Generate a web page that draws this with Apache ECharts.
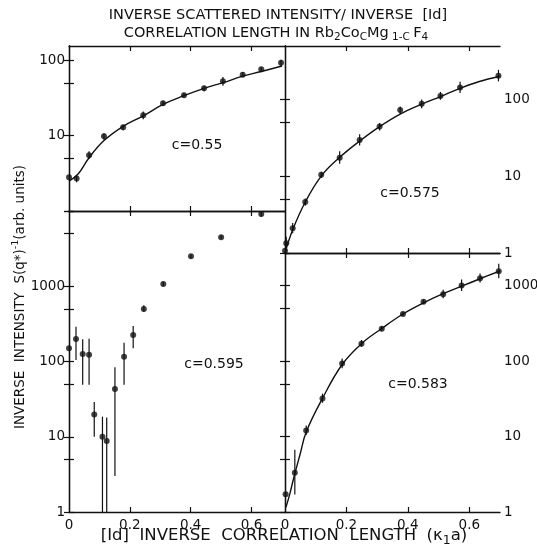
<!DOCTYPE html>
<html>
<head>
<meta charset="utf-8">
<script src="https://cdn.jsdelivr.net/npm/echarts@6/dist/echarts.min.js"></script>
<style>
  html, body { margin: 0; background: #fff; }
  #chart { width: 537px; height: 550px; }
</style>
</head>
<body>
<div id="chart"></div>
<script>
// tick values
const xLabelValues = [0, 0.2, 0.4, 0.6];
const xTickValues = [0.2, 0.4, 0.6];
const yTickValues = [1, 5, 10, 50, 100, 500, 1000, 5000, 10000];

// c = 0.55 (top left)
const kappa055 = [0, 0.025, 0.066, 0.115, 0.178, 0.244, 0.309, 0.378, 0.444, 0.506, 0.571, 0.632, 0.697];
const inten055 = [2.8, 2.7, 5.5, 9.8, 12.9, 18.7, 27, 34.5, 42.6, 52.6, 64.6, 76, 93];
const lo055 = [2.5, 2.4, 4.9, 8.8, 11.8, 16.5, 25, 32, 39, 46, 60, 71, 84];
const hi055 = [3.1, 3.0, 6.2, 10.8, 14.0, 21, 29, 37, 46, 60, 70, 81, 102];
const fitKappa055 = [0, 0.03, 0.066, 0.115, 0.178, 0.244, 0.309, 0.378, 0.444, 0.506, 0.571, 0.632, 0.70];
const fitInten055 = [2.5, 3.1, 5.1, 8.6, 13.3, 18.3, 26, 34, 42.5, 50.5, 61.6, 71, 84];

// c = 0.595 (bottom left)
const kappa0595 = [0, 0.023, 0.045, 0.066, 0.083, 0.110, 0.124, 0.151, 0.181, 0.211, 0.246, 0.31, 0.401, 0.50, 0.632];
const inten0595 = [150, 199, 126, 123, 19.8, 10, 8.8, 43, 116, 225, 500, 1070, 2500, 4470, 9100];
const lo0595 = [96, 105, 49, 49, 10, 1, 1, 3.0, 49, 150, 460, 1000, 2350, 4200, 8400];
const hi0595 = [240, 290, 197, 200, 29, 18.5, 18, 84, 178, 297, 560, 1150, 2650, 4750, 9800];

// c = 0.575 (top right)
const kappa0575 = [0, 0.004, 0.025, 0.066, 0.118, 0.178, 0.243, 0.308, 0.375, 0.445, 0.506, 0.570, 0.695];
const inten0575 = [1.07, 1.34, 2.1, 4.6, 10.4, 17.3, 29.4, 44, 72, 87, 110, 142, 201];
const lo0575 = [1.0, 1.15, 1.8, 4.1, 9.4, 14.5, 25, 39, 64, 76, 98, 120, 170];
const hi0575 = [1.15, 1.63, 2.45, 5.1, 11.4, 21, 35, 49, 80, 99, 124, 168, 240];
const fitKappa0575 = [0, 0.025, 0.066, 0.118, 0.178, 0.243, 0.308, 0.375, 0.445, 0.506, 0.570, 0.63, 0.70];
const fitInten0575 = [1.0, 2.0, 4.6, 10, 17.5, 28.5, 44, 64, 86, 108, 138, 168, 198];

// c = 0.583 (bottom right)
const kappa0583 = [0.002, 0.032, 0.069, 0.122, 0.186, 0.249, 0.315, 0.384, 0.451, 0.515, 0.575, 0.635, 0.696];
const inten0583 = [1.72, 3.3, 12, 32, 93, 170, 268, 420, 610, 765, 1000, 1250, 1550];
const lo0583 = [1.6, 1.7, 10.5, 28, 80, 155, 250, 395, 570, 680, 850, 1100, 1250];
const hi0583 = [1.85, 6.7, 14, 37, 108, 190, 290, 450, 650, 880, 1200, 1450, 1950];
const fitKappa0583 = [0.003, 0.015, 0.03, 0.05, 0.069, 0.122, 0.186, 0.249, 0.315, 0.384, 0.451, 0.515, 0.575, 0.635, 0.70];
const fitInten0583 = [1.15, 1.7, 3.0, 6.0, 11.5, 32, 90, 170, 270, 420, 590, 780, 980, 1230, 1560];

const zip = (a, b) => a.map((v, i) => [v, b[i]]);
const zip3 = (a, b, c) => a.map((v, i) => [v, b[i], c[i]]);

const FONT = 'DejaVu Sans';
const INK = '#111';

// panel layout: top-left, bottom-left, top-right, bottom-right
const panels = [
  { grid: { left: 69, top: 46, width: 216, height: 165 }, xMax: 0.71, yMin: 1, yMax: 155,
    leftLabels: [10, 100], rightLabels: null, xLabels: false,
    pts: zip(kappa055, inten055), err: zip3(kappa055, lo055, hi055), fit: zip(fitKappa055, fitInten055) },
  { grid: { left: 69, top: 211, width: 216, height: 301 }, xMax: 0.71, yMin: 1, yMax: 10000,
    leftLabels: [1, 10, 100, 1000], rightLabels: null, xLabels: true,
    pts: zip(kappa0595, inten0595), err: zip3(kappa0595, lo0595, hi0595), fit: null },
  { grid: { left: 285, top: 46, width: 215, height: 207 }, xMax: 0.70, yMin: 1, yMax: 490,
    leftLabels: null, rightLabels: [1, 10, 100], xLabels: false,
    pts: zip(kappa0575, inten0575), err: zip3(kappa0575, lo0575, hi0575), fit: zip(fitKappa0575, fitInten0575) },
  { grid: { left: 285, top: 253, width: 215, height: 259 }, xMax: 0.70, yMin: 1, yMax: 2700,
    leftLabels: null, rightLabels: [1, 10, 100, 1000], xLabels: true,
    pts: zip(kappa0583, inten0583), err: zip3(kappa0583, lo0583, hi0583), fit: zip(fitKappa0583, fitInten0583) }
];

const axisLine = { show: true, lineStyle: { color: INK, width: 1.3 } };
const labelStyle = { color: INK, fontFamily: FONT, fontSize: 13.5 };

const grids = [], xAxes = [], yAxes = [], series = [];

panels.forEach((p, g) => {
  grids.push(Object.assign({ outerBoundsMode: 'none', containLabel: false }, p.grid));
  ['bottom', 'top'].forEach((pos) => {
    const showLab = pos === 'bottom' && p.xLabels;
    xAxes.push({
      type: 'value', gridIndex: g, position: pos, min: 0, max: p.xMax,
      axisLine: axisLine,
      splitLine: { show: false },
      axisTick: { show: true, inside: true, length: 5, customValues: xTickValues, lineStyle: { color: INK, width: 1.2 } },
      axisLabel: showLab ? Object.assign({ show: true, customValues: xLabelValues, margin: 6,
        formatter: (v) => (Math.round(v * 10) / 10).toString() }, labelStyle) : { show: false }
    });
  });
  ['left', 'right'].forEach((pos) => {
    const labs = pos === 'left' ? p.leftLabels : p.rightLabels;
    yAxes.push({
      type: 'log', logBase: 10, gridIndex: g, position: pos, min: p.yMin, max: p.yMax,
      axisLine: axisLine,
      splitLine: { show: false },
      minorTick: { show: false },
      axisTick: { show: true, inside: true, length: 5, customValues: yTickValues, lineStyle: { color: INK, width: 1.2 } },
      axisLabel: labs ? Object.assign({ show: true, customValues: labs, margin: 4,
        formatter: (v) => String(Math.round(v)) }, labelStyle) : { show: false }
    });
  });

  const xi = 2 * g, yi = 2 * g;
  series.push({
    type: 'custom', xAxisIndex: xi, yAxisIndex: yi, clip: true, silent: true,
    data: p.err,
    renderItem: (params, api) => {
      const x = api.value(0);
      const a = api.coord([x, api.value(1)]);
      const b = api.coord([x, api.value(2)]);
      return { type: 'line', shape: { x1: a[0], y1: a[1], x2: b[0], y2: b[1] },
        style: { stroke: INK, lineWidth: 1.2 } };
    }
  });
  series.push({
    type: 'scatter', xAxisIndex: xi, yAxisIndex: yi, symbol: 'circle', symbolSize: 6,
    itemStyle: { color: INK }, data: p.pts, clip: false
  });
  if (p.fit) {
    series.push({
      type: 'line', xAxisIndex: xi, yAxisIndex: yi, smooth: 0.4, showSymbol: false,
      lineStyle: { color: INK, width: 1.4 }, data: p.fit
    });
  }
});

const makeRich = (size) => ({
  a: { fontFamily: FONT, fontSize: size, lineHeight: size + 5, fill: INK, color: INK },
  s: { fontFamily: FONT, fontSize: size - 4, lineHeight: size - 4, verticalAlign: 'bottom', fill: INK, color: INK },
  u: { fontFamily: FONT, fontSize: size - 4, lineHeight: size - 4, verticalAlign: 'top', fill: INK, color: INK }
});

const cText = (x, y, t) => ({
  type: 'text', x: x, y: y,
  style: { text: t, fontFamily: FONT, fontSize: 14, fill: INK, align: 'center', verticalAlign: 'middle' }
});

const graphic = [
  { type: 'text', x: 278, y: 15,
    style: { text: 'INVERSE SCATTERED INTENSITY/ INVERSE  [Id]', fontFamily: FONT, fontSize: 14.5, fill: INK,
      align: 'center', verticalAlign: 'middle' } },
  { type: 'text', x: 276, y: 33,
    style: { text: '{a|CORRELATION LENGTH IN Rb}{s|2}{a|Co}{s|C}{a|Mg}{s| 1-C }{a|F}{s|4}', rich: makeRich(14.5),
      align: 'center', verticalAlign: 'middle' } },
  { type: 'text', x: 20, y: 297, rotation: Math.PI / 2,
    style: { text: '{a|INVERSE  INTENSITY  S(q*)}{u|-1}{a|(arb. units)}', rich: makeRich(13.5),
      align: 'center', verticalAlign: 'middle' } },
  { type: 'text', x: 284, y: 536,
    style: { text: '{a|[Id]  INVERSE  CORRELATION  LENGTH  (\u03ba}{s|1}{a|a)}', rich: makeRich(16.5),
      align: 'center', verticalAlign: 'middle' } },
  cText(197, 145, 'c=0.55'),
  cText(410, 193, 'c=0.575'),
  cText(214, 364, 'c=0.595'),
  cText(418, 384, 'c=0.583')
];

const chart = echarts.init(document.getElementById('chart'), null, { renderer: 'canvas' });
chart.setOption({
  animation: false,
  backgroundColor: '#fff',
  grid: grids,
  xAxis: xAxes,
  yAxis: yAxes,
  series: series,
  graphic: graphic
});
</script>
</body>
</html>
